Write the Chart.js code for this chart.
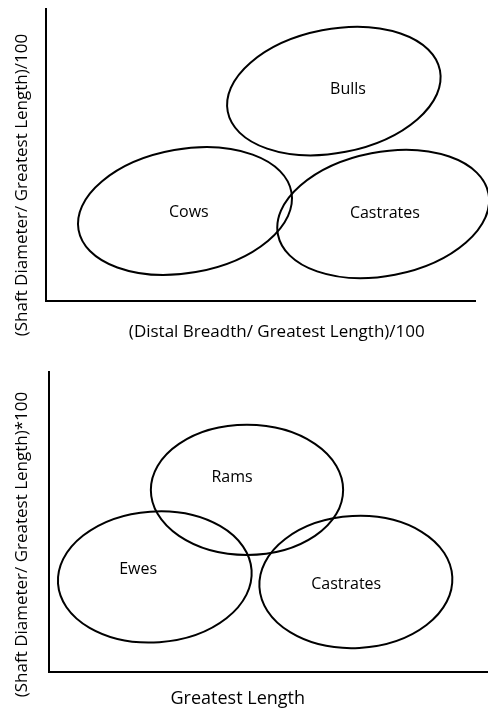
<!DOCTYPE html>
<html>
<head>
<meta charset="utf-8">
<script src="https://cdn.jsdelivr.net/npm/chart.js@4/dist/chart.umd.min.js"></script>
<style>
  body { margin: 0; background: #fff; }
  canvas { display: block; }
</style>
</head>
<body>
<canvas id="cattleChart" width="488" height="360"></canvas>
<canvas id="sheepChart" width="488" height="350"></canvas>
<script>
// cattle: group ranges on a 0-100 axis
var cattleGroups = ['Bulls', 'Cows', 'Castrates'];
var cattleCenterX = [67.1, 32.4, 78.6];
var cattleCenterY = [71.9, 30.8, 29.8];
var cattleSpreadX = [25.2, 25.2, 25.0];
var cattleSpreadY = [21.2, 21.2, 21.2];
var cattleTilt = [11, 10, 11];
var cattleLabelX = [70.4, 33.3, 79.0];
var cattleLabelY = [72.6, 30.5, 30.1];

// sheep
var sheepGroups = ['Rams', 'Ewes', 'Castrates'];
var sheepCenterX = [45.1, 24.1, 69.9];
var sheepCenterY = [60.7, 31.7, 30.0];
var sheepSpreadX = [21.9, 22.1, 22.0];
var sheepSpreadY = [21.7, 21.8, 22.0];
var sheepTilt = [0, 4, 3];
var sheepLabelX = [41.7, 20.3, 67.7];
var sheepLabelY = [65.0, 34.3, 29.3];

var FAMILY = "'Open Sans', sans-serif";

Chart.defaults.font.family = FAMILY;
Chart.defaults.color = '#000';

// ellipses + group names + axis titles
function ellipsePlugin(g, t) {
    return {
        id: 'ellipses',
        afterDatasetsDraw: function (chart) {
            var ctx = chart.ctx;
            var xs = chart.scales.x;
            var ys = chart.scales.y;
            var area = chart.chartArea;
            ctx.save();
            ctx.strokeStyle = '#000';
            ctx.lineWidth = 2;
            ctx.fillStyle = '#000';
            ctx.font = '16px ' + FAMILY;
            ctx.textAlign = 'center';
            ctx.textBaseline = 'middle';
            g.names.forEach(function (name, i) {
                var cx = xs.getPixelForValue(g.cx[i]);
                var cy = ys.getPixelForValue(g.cy[i]);
                var rx = Math.abs(xs.getPixelForValue(g.cx[i] + g.rx[i]) - cx);
                var ry = Math.abs(ys.getPixelForValue(g.cy[i] + g.ry[i]) - cy);
                ctx.beginPath();
                ctx.ellipse(cx, cy, rx, ry, -g.tilt[i] * Math.PI / 180, 0, 2 * Math.PI);
                ctx.stroke();
                ctx.fillText(name, xs.getPixelForValue(g.lx[i]), ys.getPixelForValue(g.ly[i]));
            });

            // x title
            ctx.font = t.xSize + 'px ' + FAMILY;
            ctx.fillText(t.x, area.left + area.width * t.xAt, area.bottom + t.xGap);
            // y title, rotated
            ctx.font = '17px ' + FAMILY;
            ctx.translate(t.yX, area.top + area.height * t.yAt);
            ctx.rotate(-Math.PI / 2);
            ctx.fillText(t.y, 0, 0);
            ctx.restore();
        }
    };
}

function axis() {
    return {
        type: 'linear',
        min: 0,
        max: 100,
        grid: { display: false, drawTicks: false },
        ticks: { display: false },
        border: { display: true, color: '#000', width: 2 }
    };
}

function makeChart(id, g, t, layoutPad) {
    var points = g.cx.map(function (x, i) { return { x: x, y: g.cy[i] }; });
    return new Chart(document.getElementById(id).getContext('2d'), {
        type: 'scatter',
        data: { datasets: [{ data: points, pointRadius: 0 }] },
        options: {
            responsive: false,
            animation: false,
            layout: { padding: layoutPad },
            plugins: { legend: { display: false }, tooltip: { enabled: false } },
            scales: { x: axis(), y: axis() }
        },
        plugins: [ellipsePlugin(g, t)]
    });
}

makeChart('cattleChart', {
    names: cattleGroups, cx: cattleCenterX, cy: cattleCenterY,
    rx: cattleSpreadX, ry: cattleSpreadY, tilt: cattleTilt,
    lx: cattleLabelX, ly: cattleLabelY
}, {
    x: '(Distal Breadth/ Greatest Length)/100', xAt: 0.538, xGap: 31, xSize: 17,
    y: '(Shaft Diameter/ Greatest Length)/100', yAt: 0.603, yX: 22
}, { top: 9, right: 13, bottom: 59, left: 46 });

makeChart('sheepChart', {
    names: sheepGroups, cx: sheepCenterX, cy: sheepCenterY,
    rx: sheepSpreadX, ry: sheepSpreadY, tilt: sheepTilt,
    lx: sheepLabelX, ly: sheepLabelY
}, {
    x: 'Greatest Length', xAt: 0.43, xGap: 27, xSize: 18,
    y: '(Shaft Diameter/ Greatest Length)*100', yAt: 0.575, yX: 22
}, { top: 12, right: 0, bottom: 38, left: 49 });
</script>
</body>
</html>
